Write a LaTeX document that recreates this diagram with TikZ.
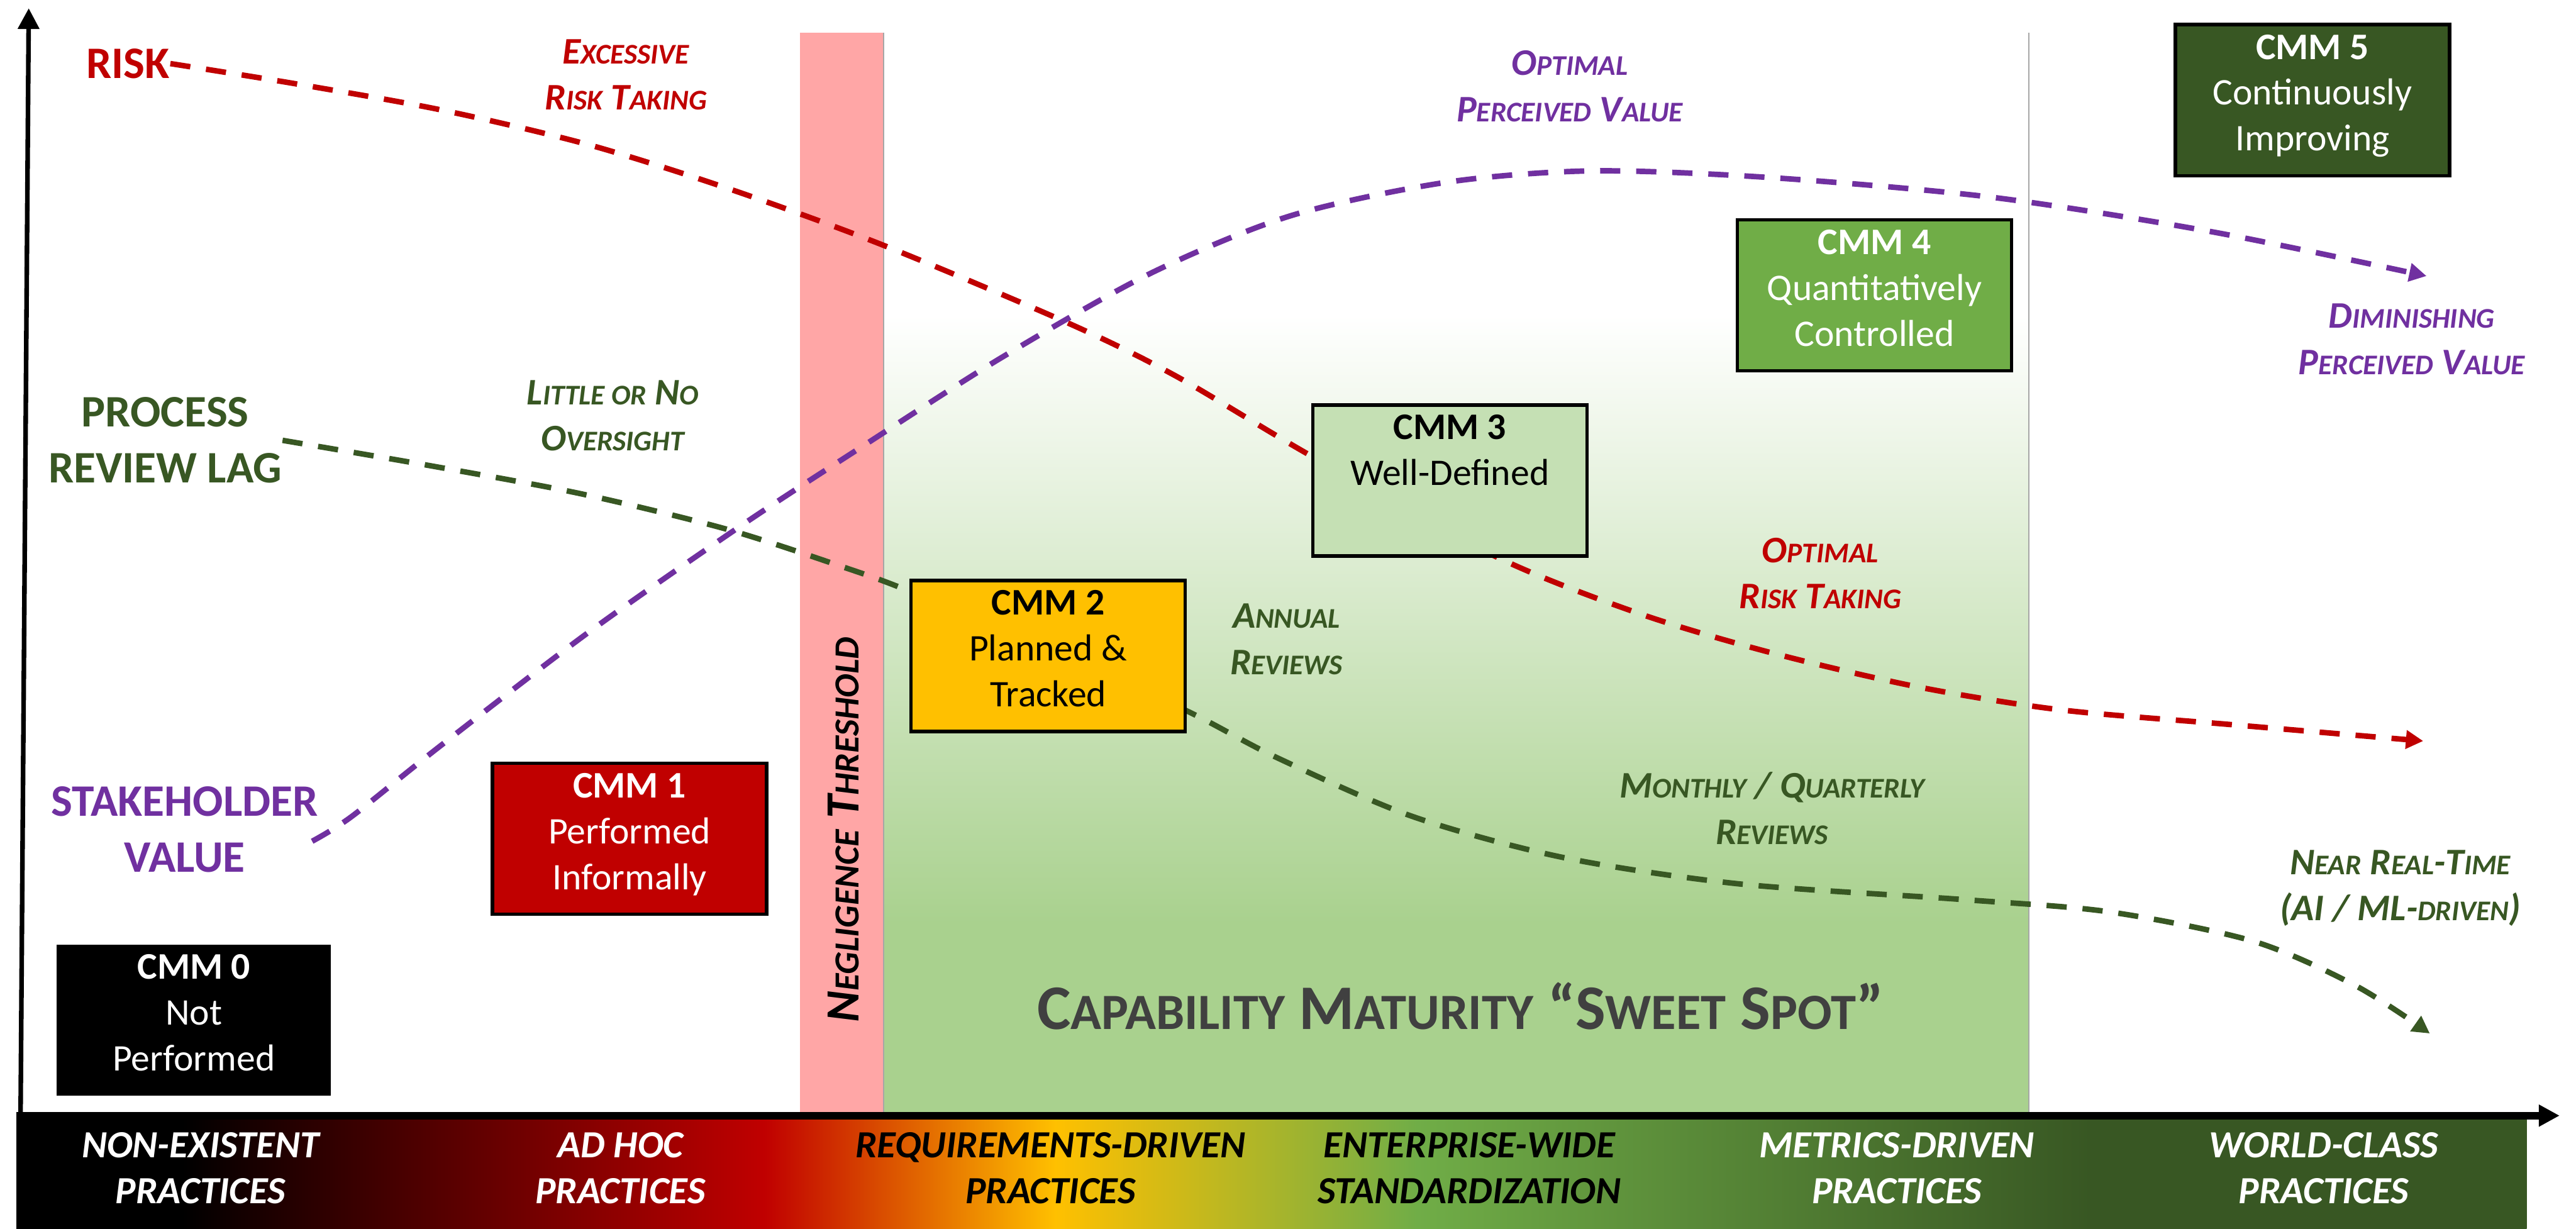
\documentclass[tikz,border=0pt]{standalone}
\usepackage{fontspec}
\setmainfont{Carlito}
\usepackage{graphicx}
\usetikzlibrary{arrows.meta}
\definecolor{cmmred}{RGB}{192,0,0}
\definecolor{cmmgold}{RGB}{255,192,0}
\definecolor{cmmlgreen}{RGB}{112,173,71}
\definecolor{cmmdgreen}{RGB}{56,87,35}
\definecolor{cmmpale}{RGB}{197,224,180}
\definecolor{cmmpurple}{RGB}{112,48,160}
\definecolor{sweetgreen}{RGB}{169,209,142}
\definecolor{negpink}{RGB}{255,166,166}
\definecolor{spotgray}{RGB}{64,64,64}
\pgfdeclarehorizontalshading{practicebar}{100bp}{color(0bp)=(black); color(28.3bp)=(black); color(39.9bp)=(cmmred); color(45.7bp)=(cmmgold); color(52.9bp)=(cmmlgreen); color(66.3bp)=(cmmdgreen); color(100bp)=(cmmdgreen)}
\pgfdeclareverticalshading{sweetfade}{100bp}{color(0bp)=(sweetgreen); color(34bp)=(sweetgreen); color(62bp)=(white); color(100bp)=(white)}
\newcommand{\tinycaps}[2][0.76]{\scalebox{#1}{#2}}
\newcommand{\cmmtext}[2]{\parbox[c][1.6cm][t]{3.3cm}{\centering\textbf{#1}\\#2}}
\tikzset{
  cmm/.style={draw=black, line width=1.2pt, minimum width=3.34cm, minimum height=1.84cm, inner sep=0pt, font=\fontsize{13}{15.9}\selectfont},
  axislbl/.style={font=\bfseries\fontsize{15.6}{19.4}\selectfont, align=center, inner sep=0pt},
  remark/.style={font=\bfseries\itshape\fontsize{13}{16}\selectfont, align=center, inner sep=0pt},
  practice/.style={font=\bfseries\itshape\fontsize{13.3}{15.9}\selectfont, align=center, inner sep=0pt},
  trend/.style={line width=1.9pt, dash pattern=on 7pt off 5.5pt, -{Triangle[length=6pt,width=6.2pt]}},
  chartaxis/.style={draw=black, -{Triangle[length=7.2pt,width=7.2pt]}},
}
\begin{document}
\begin{tikzpicture}[x=0.02cm, y=-0.02cm]
  \path[fill=white, use as bounding box] (0,0) rectangle (1568,748);
  \shade[shading=sweetfade] (538,20) rectangle (1235,681);
  \fill[negpink] (487,20) rectangle (538,681);
  \draw[gray!70, line width=0.4pt] (538,20) -- (538,681) (1235,20) -- (1235,681);
  \node[remark, font=\bfseries\itshape\fontsize{16.5}{19}\selectfont, rotate=90] (negl) at (513.5,505) {N\tinycaps[0.74]{EGLIGENCE} T\tinycaps[0.74]{HRESHOLD}};
  \node[font=\bfseries\fontsize{22}{26}\selectfont, text=spotgray, inner sep=0pt] (sweetlbl) at (889,612.5) {C\tinycaps[0.8]{APABILITY} M\tinycaps[0.8]{ATURITY} “S\tinycaps[0.8]{WEET} S\tinycaps[0.8]{POT}”};

  \node[axislbl, text=cmmred] (risklbl) at (78,38.7) {RISK};
  \node[axislbl, text=cmmdgreen] (laglbl) at (100.6,268) {PROCESS\\REVIEW LAG};
  \node[axislbl, text=cmmpurple] (stakelbl) at (112.4,505) {STAKEHOLDER\\VALUE};

  \coordinate (valstart) at (190,512);
  \coordinate (riskend) at (1475,451);
  \coordinate (lagend) at (1479,629);
  \coordinate (valend) at (1477,168);
  \draw[trend, cmmred] plot[smooth, tension=0.5] coordinates {(risklbl.east) (180,51) (269,67) (358,88) (444,115) (537,149) (651,197) (716,229) (799,278) (911,339) (998,373.5) (1079,397.5) (1167,418) (1254,432) (1358,441) (riskend)};
  \draw[trend, cmmdgreen] plot[smooth, tension=0.5] coordinates {(laglbl.east) (265,284) (354,300.6) (442,322) (513,345) (554,360) (638,396) (721,432) (777,461) (860,497) (952,522) (1059,538) (1195,547.5) (1284,555) (1372,573) (1434,600) (lagend)};
  \draw[trend, cmmpurple] plot[smooth, tension=0.5] coordinates {(valstart) (214,497) (268,454) (358,385) (451,320) (526,271) (609,218) (699,167) (785,131.5) (880,111) (969,104) (1076.6,108) (1212,120) (1346,141) (valend)};

  \node[cmm, fill=black, draw=none, text=white] (cmm0) at (118,621) {\cmmtext{CMM 0}{Not\\Performed}};
  \node[cmm, fill=cmmred, text=white] (cmm1) at (383.2,510.5) {\cmmtext{CMM 1}{Performed\\Informally}};
  \node[cmm, fill=cmmgold] (cmm2) at (638,399.3) {\cmmtext{CMM 2}{Planned \&\\Tracked}};
  \node[cmm, fill=cmmpale] (cmm3) at (882.5,292.5) {\cmmtext{CMM 3}{Well-Defined}};
  \node[cmm, fill=cmmlgreen, text=white] (cmm4) at (1141,179.7) {\cmmtext{CMM 4}{Quantitatively\\Controlled}};
  \node[cmm, fill=cmmdgreen, text=white] (cmm5) at (1407.6,61) {\cmmtext{CMM 5}{Continuously\\Improving}};

  \node[remark, text=cmmred] (excess) at (381,45.5) {E\tinycaps{XCESSIVE}\\R\tinycaps{ISK} T\tinycaps{AKING}};
  \node[remark, text=cmmdgreen] (oversight) at (373,253) {L\tinycaps{ITTLE OR} N\tinycaps{O}\\O\tinycaps{VERSIGHT}};
  \node[remark, text=cmmpurple] (optvalue) at (955.5,52.5) {O\tinycaps{PTIMAL}\\P\tinycaps{ERCEIVED} V\tinycaps{ALUE}};
  \node[remark, text=cmmpurple] (dimvalue) at (1468,206.5) {D\tinycaps{IMINISHING}\\P\tinycaps{ERCEIVED} V\tinycaps{ALUE}};
  \node[remark, text=cmmred] (optrisk) at (1108,349) {O\tinycaps{PTIMAL}\\R\tinycaps{ISK} T\tinycaps{AKING}};
  \node[remark, text=cmmdgreen] (annual) at (783,389) {A\tinycaps{NNUAL}\\R\tinycaps{EVIEWS}};
  \node[remark, text=cmmdgreen] (monthly) at (1078.6,492) {M\tinycaps{ONTHLY} / Q\tinycaps{UARTERLY}\\R\tinycaps{EVIEWS}};
  \node[remark, text=cmmdgreen] (realtime) at (1461,540.6) {N\tinycaps{EAR} R\tinycaps{EAL}-T\tinycaps{IME}\\(AI / ML-\tinycaps{DRIVEN})};

  \shade[shading=practicebar] (10,681) rectangle (1538,748);
  \coordinate (ytip) at (17.5,5);
  \coordinate (xtip) at (1558,679);
  \draw[chartaxis, line width=1.6pt] (12.5,681) -- (ytip);
  \draw[chartaxis, line width=2.6pt] (10,679) -- (xtip);

  \node[practice, text=white] (nonex) at (122,711) {NON-EXISTENT\\PRACTICES};
  \node[practice, text=white] (adhoc) at (377.6,711) {AD HOC\\PRACTICES};
  \node[practice, text=black] (reqdrv) at (639.4,711) {REQUIREMENTS-DRIVEN\\PRACTICES};
  \node[practice, text=black] (entwide) at (894.4,711) {ENTERPRISE-WIDE\\STANDARDIZATION};
  \node[practice, text=white] (metdrv) at (1154.6,711) {METRICS-DRIVEN\\PRACTICES};
  \node[practice, text=white] (worldcls) at (1414.5,711) {WORLD-CLASS\\PRACTICES};
\end{tikzpicture}
\end{document}
